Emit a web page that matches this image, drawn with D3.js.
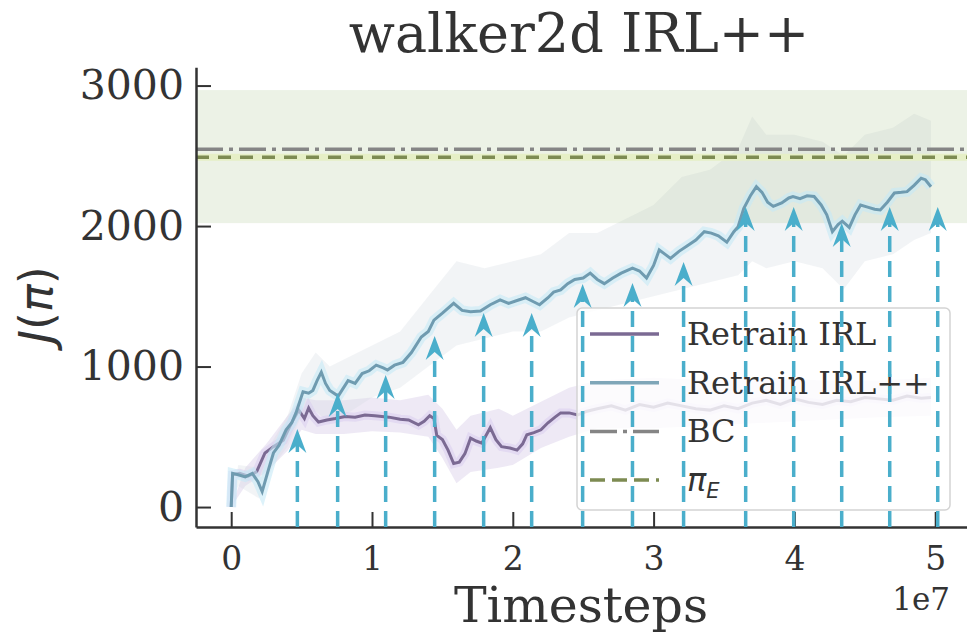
<!DOCTYPE html>
<html>
  <head>
    <title>walker2d IRL++</title>
    <script src="https://d3js.org/d3.v7.min.js"></script>
    <style>
      body { margin: 0; background: #fff; }
      text { font-family: "DejaVu Serif", serif; fill: #333; }
      .axis .tick line { stroke: #333; stroke-width: 2px; }
      .axis .domain { stroke: #333; stroke-width: 2.5px; }
      .axis .tick text { fill: #333; }
    </style>
  </head>
  <body>
    <svg width="967" height="642"></svg>
    <script>
      // timesteps in units of 1e7
      const irlT = [0, 0.01, 0.06, 0.12, 0.18, 0.24, 0.30, 0.37, 0.41, 0.44, 0.48, 0.52, 0.55, 0.58, 0.62, 0.68, 0.74, 0.81, 0.88, 0.95, 1.02, 1.12, 1.20, 1.26, 1.33, 1.37, 1.41, 1.44, 1.46, 1.50, 1.54, 1.58, 1.62, 1.66, 1.70, 1.74, 1.78, 1.84, 1.88, 1.92, 1.98, 2.03, 2.07, 2.10, 2.15, 2.20, 2.25, 2.30, 2.34, 2.40, 2.46, 2.52, 2.60, 2.70, 2.80, 2.90, 3.00, 3.10, 3.20, 3.30, 3.40, 3.50, 3.60, 3.70, 3.80, 3.90, 4.00, 4.10, 4.20, 4.30, 4.40, 4.50, 4.60, 4.70, 4.80, 4.90, 4.97];
      const irlMean = [0, 230, 240, 220, 250, 385, 430, 475, 560, 620, 690, 630, 705, 650, 605, 620, 630, 645, 640, 655, 650, 640, 625, 620, 585, 610, 650, 630, 510, 480, 405, 310, 320, 380, 490, 470, 455, 565, 480, 430, 420, 405, 450, 515, 530, 550, 600, 640, 670, 670, 655, 680, 700, 720, 690, 730, 710, 740, 720, 700, 690, 720, 700, 740, 760, 730, 770, 745, 730, 760, 750, 780, 770, 760, 790, 775, 780];

      const irlBandT = [0, 0.1, 0.25, 0.4, 0.5, 0.6, 0.8, 1.0, 1.2, 1.4, 1.5, 1.6, 1.7, 1.9, 2.0, 2.2, 2.4, 2.6, 3.0, 3.4, 3.8, 4.2, 4.6, 4.97];
      const irlLo = [0, 150, 250, 400, 550, 520, 520, 540, 530, 500, 350, 170, 250, 280, 300, 420, 500, 560, 560, 580, 600, 620, 640, 650];
      const irlHi = [0, 280, 450, 650, 780, 760, 760, 780, 760, 800, 700, 550, 650, 700, 650, 750, 850, 900, 920, 900, 920, 900, 900, 920];

      const ppT = [0, 0.01, 0.05, 0.10, 0.15, 0.19, 0.22, 0.26, 0.30, 0.34, 0.39, 0.43, 0.46, 0.51, 0.55, 0.58, 0.61, 0.64, 0.67, 0.70, 0.76, 0.83, 0.88, 0.93, 0.98, 1.03, 1.08, 1.11, 1.16, 1.22, 1.28, 1.35, 1.40, 1.44, 1.50, 1.58, 1.64, 1.70, 1.77, 1.84, 1.91, 1.97, 2.03, 2.09, 2.14, 2.19, 2.25, 2.29, 2.34, 2.39, 2.44, 2.50, 2.55, 2.60, 2.65, 2.71, 2.77, 2.85, 2.90, 2.95, 3.00, 3.04, 3.08, 3.12, 3.18, 3.24, 3.30, 3.36, 3.41, 3.46, 3.52, 3.57, 3.60, 3.64, 3.69, 3.73, 3.77, 3.81, 3.85, 3.91, 3.96, 3.99, 4.04, 4.09, 4.14, 4.19, 4.23, 4.27, 4.31, 4.34, 4.39, 4.43, 4.47, 4.52, 4.57, 4.61, 4.66, 4.71, 4.76, 4.80, 4.85, 4.90, 4.93, 4.97];
      const ppMean = [0, 240, 230, 215, 240, 180, 110, 250, 385, 440, 550, 600, 670, 820, 810, 830, 900, 960, 880, 830, 790, 900, 880, 950, 970, 1010, 990, 975, 1010, 1030, 1100, 1210, 1250, 1330, 1380, 1450, 1400, 1390, 1395, 1440, 1475, 1450, 1470, 1490, 1465, 1440, 1490, 1530, 1545, 1590, 1620, 1630, 1665, 1620, 1590, 1630, 1665, 1700, 1680, 1630, 1720, 1830, 1800, 1770, 1820, 1860, 1900, 1960, 1950, 1930, 1885, 1960, 1995, 2125, 2220, 2280, 2240, 2170, 2140, 2165, 2200, 2210, 2195, 2215, 2210, 2150, 2080, 1960, 2010, 2035, 1990, 2080, 2150, 2135, 2120, 2115, 2170, 2235, 2240, 2245, 2290, 2340, 2330, 2280];

      const ppBandT = [0, 0.05, 0.2, 0.3, 0.4, 0.5, 0.6, 0.7, 0.8, 1.0, 1.2, 1.4, 1.6, 1.8, 2.0, 2.2, 2.4, 2.6, 2.8, 3.0, 3.2, 3.4, 3.6, 3.7, 3.8, 4.0, 4.2, 4.35, 4.5, 4.7, 4.85, 4.97];
      const ppLo = [0, 150, 60, 300, 430, 650, 680, 600, 650, 780, 850, 1000, 1150, 1200, 1250, 1250, 1350, 1400, 1450, 1500, 1550, 1600, 1650, 1750, 1700, 1750, 1700, 1550, 1750, 1800, 1900, 1950];
      const ppHi = [0, 300, 280, 480, 650, 950, 1100, 1000, 1050, 1150, 1250, 1500, 1750, 1700, 1750, 1800, 1950, 1950, 2050, 2150, 2350, 2400, 2550, 2780, 2650, 2650, 2600, 2500, 2650, 2700, 2800, 2750];

      const bcMean = 2546;
      const expertMean = 2489;
      const expertLo = 2021;
      const expertHi = 2968;

      // retraining points (arrows)
      const arrowT = [0.47, 0.756, 1.097, 1.445, 1.793, 2.134, 2.496, 2.85, 3.213, 3.654, 3.995, 4.336, 4.677, 5.018];
      const arrowV = [555, 811, 940, 1217, 1381, 1381, 1587, 1594, 1744, 2135, 2135, 2021, 2135, 2135];

      const xTicks = [0, 1, 2, 3, 4, 5];
      const yTicks = [0, 1000, 2000, 3000];
      const legendLabels = ["Retrain IRL", "Retrain IRL++", "BC", "πE"];

      const svg = d3.select("svg");
      const x = d3.scaleLinear().domain([-0.25, 5.25]).range([196, 970.4]);
      const y = d3.scaleLinear().domain([-142, 3130]).range([527, 67.3]);

      const g = svg.append("g");

      const area = (ts, lo, hi) => d3.area()
        .x((d, i) => x(ts[i]))
        .y0((d, i) => y(lo[i]))
        .y1((d, i) => y(hi[i]))(ts);
      const line = (ts, vs) => d3.line()
        .x((d, i) => x(ts[i]))
        .y((d, i) => y(vs[i]))(ts);

      // bands
      g.append("path").attr("d", area(irlBandT, irlLo, irlHi))
        .attr("fill", "#c7b7df").attr("opacity", 0.3);
      g.append("path").attr("d", area(ppBandT, ppLo, ppHi))
        .attr("fill", "#d3dbe0").attr("opacity", 0.3);

      // expert band
      g.append("rect")
        .attr("x", x(-0.25)).attr("width", x(5.25) - x(-0.25))
        .attr("y", y(expertHi)).attr("height", y(expertLo) - y(expertHi))
        .attr("fill", "#a9c48f").attr("opacity", 0.22);

      // IRL line
      g.append("path").attr("d", line(irlT, irlMean))
        .attr("fill", "none").attr("stroke", "#d8ccef").attr("stroke-width", 9).attr("opacity", 0.5);
      g.append("path").attr("d", line(irlT, irlMean))
        .attr("fill", "none").attr("stroke", "#7b6a93").attr("stroke-width", 3);

      // IRL++ line
      g.append("path").attr("d", line(ppT, ppMean))
        .attr("fill", "none").attr("stroke", "#c6eaf6").attr("stroke-width", 10).attr("opacity", 0.6);
      g.append("path").attr("d", line(ppT, ppMean))
        .attr("fill", "none").attr("stroke", "#6f9bb0").attr("stroke-width", 3);

      // BC and expert lines
      g.append("line")
        .attr("x1", x(-0.25)).attr("x2", x(5.25))
        .attr("y1", y(bcMean)).attr("y2", y(bcMean))
        .attr("stroke", "#858585").attr("stroke-width", 3.5)
        .attr("stroke-dasharray", "27,6,4,6");
      g.append("line")
        .attr("x1", x(-0.25)).attr("x2", x(5.25))
        .attr("y1", y(expertMean)).attr("y2", y(expertMean))
        .attr("stroke", "#e6efc6").attr("stroke-width", 7);
      g.append("line")
        .attr("x1", x(-0.25)).attr("x2", x(5.25))
        .attr("y1", y(expertMean)).attr("y2", y(expertMean))
        .attr("stroke", "#7d8b52").attr("stroke-width", 3.5)
        .attr("stroke-dasharray", "13,9");

      // axes
      const xAxis = d3.axisBottom(x).tickValues(xTicks).tickFormat(d3.format("d"))
        .tickSize(-15).tickSizeOuter(0).tickPadding(20);
      const yAxis = d3.axisLeft(y).tickValues(yTicks).tickFormat(d3.format("d"))
        .tickSize(-15).tickSizeOuter(0).tickPadding(12);
      const xAxisG = svg.append("g").attr("class", "axis").attr("transform", "translate(0,527)").call(xAxis);
      const yAxisG = svg.append("g").attr("class", "axis").attr("transform", "translate(196,0)").call(yAxis);
      xAxisG.selectAll(".tick text").style("font-size", "33px");
      yAxisG.selectAll(".tick text").style("font-size", "41px");

      // legend
      const leg = svg.append("g").attr("transform", "translate(577,308)");
      leg.append("rect").attr("width", 373).attr("height", 202).attr("rx", 5)
        .attr("fill", "#fff").attr("fill-opacity", 0.8).attr("stroke", "#d3d3d3").attr("stroke-width", 1.5);
      const legStyles = [
        {stroke: "#7b6a93", dash: null},
        {stroke: "#7fa6b8", dash: null},
        {stroke: "#858585", dash: "27,6,4,6"},
        {stroke: "#7d8b52", dash: "15,7"}
      ];
      legendLabels.forEach((lab, i) => {
        const ly = 26 + i * 48.7;
        leg.append("line").attr("x1", 13).attr("x2", 82).attr("y1", ly).attr("y2", ly)
          .attr("stroke", legStyles[i].stroke).attr("stroke-width", 3.5)
          .attr("stroke-dasharray", legStyles[i].dash);
        const t = leg.append("text").attr("x", 110).attr("y", ly + 11).style("font-size", "32px");
        if (lab === "πE") {
          t.append("tspan").text("π").style("font-family", "DejaVu Sans").style("font-style", "italic");
          t.append("tspan").text("E").attr("dy", 7).style("font-size", "21px")
            .style("font-family", "DejaVu Sans").style("font-style", "italic");
        } else {
          t.text(lab);
        }
      });

      // arrows
      const arrows = svg.append("g");
      arrowT.forEach((t, i) => {
        const ax = x(t), ay = y(arrowV[i]);
        arrows.append("line").attr("x1", ax).attr("x2", ax).attr("y1", y(-142)).attr("y2", ay + 14)
          .attr("stroke", "#4aaecb").attr("stroke-width", 3.5).attr("stroke-dasharray", "16,9");
        arrows.append("path")
          .attr("d", `M${ax},${ay} L${ax - 9},${ay + 24} L${ax},${ay + 16} L${ax + 9},${ay + 24} Z`)
          .attr("fill", "#4aaecb");
      });

      // titles
      svg.append("text").attr("x", 579).attr("y", 52).attr("text-anchor", "middle")
        .style("font-size", "54px").text("walker2d IRL++");
      svg.append("text").attr("x", 581).attr("y", 622).attr("text-anchor", "middle")
        .style("font-size", "49px").text("Timesteps");
      svg.append("text").attr("x", 950).attr("y", 610).attr("text-anchor", "end")
        .style("font-size", "31px").text("1e7");
      const yl = svg.append("text").attr("transform", "translate(52,305) rotate(-90)")
        .attr("text-anchor", "middle").style("font-size", "46px");
      yl.append("tspan").text("J").style("font-family", "DejaVu Sans").style("font-style", "italic");
      yl.append("tspan").text("(").style("font-family", "DejaVu Sans");
      yl.append("tspan").text("π").style("font-family", "DejaVu Sans").style("font-style", "italic");
      yl.append("tspan").text(")").style("font-family", "DejaVu Sans");
    </script>
  </body>
</html>
